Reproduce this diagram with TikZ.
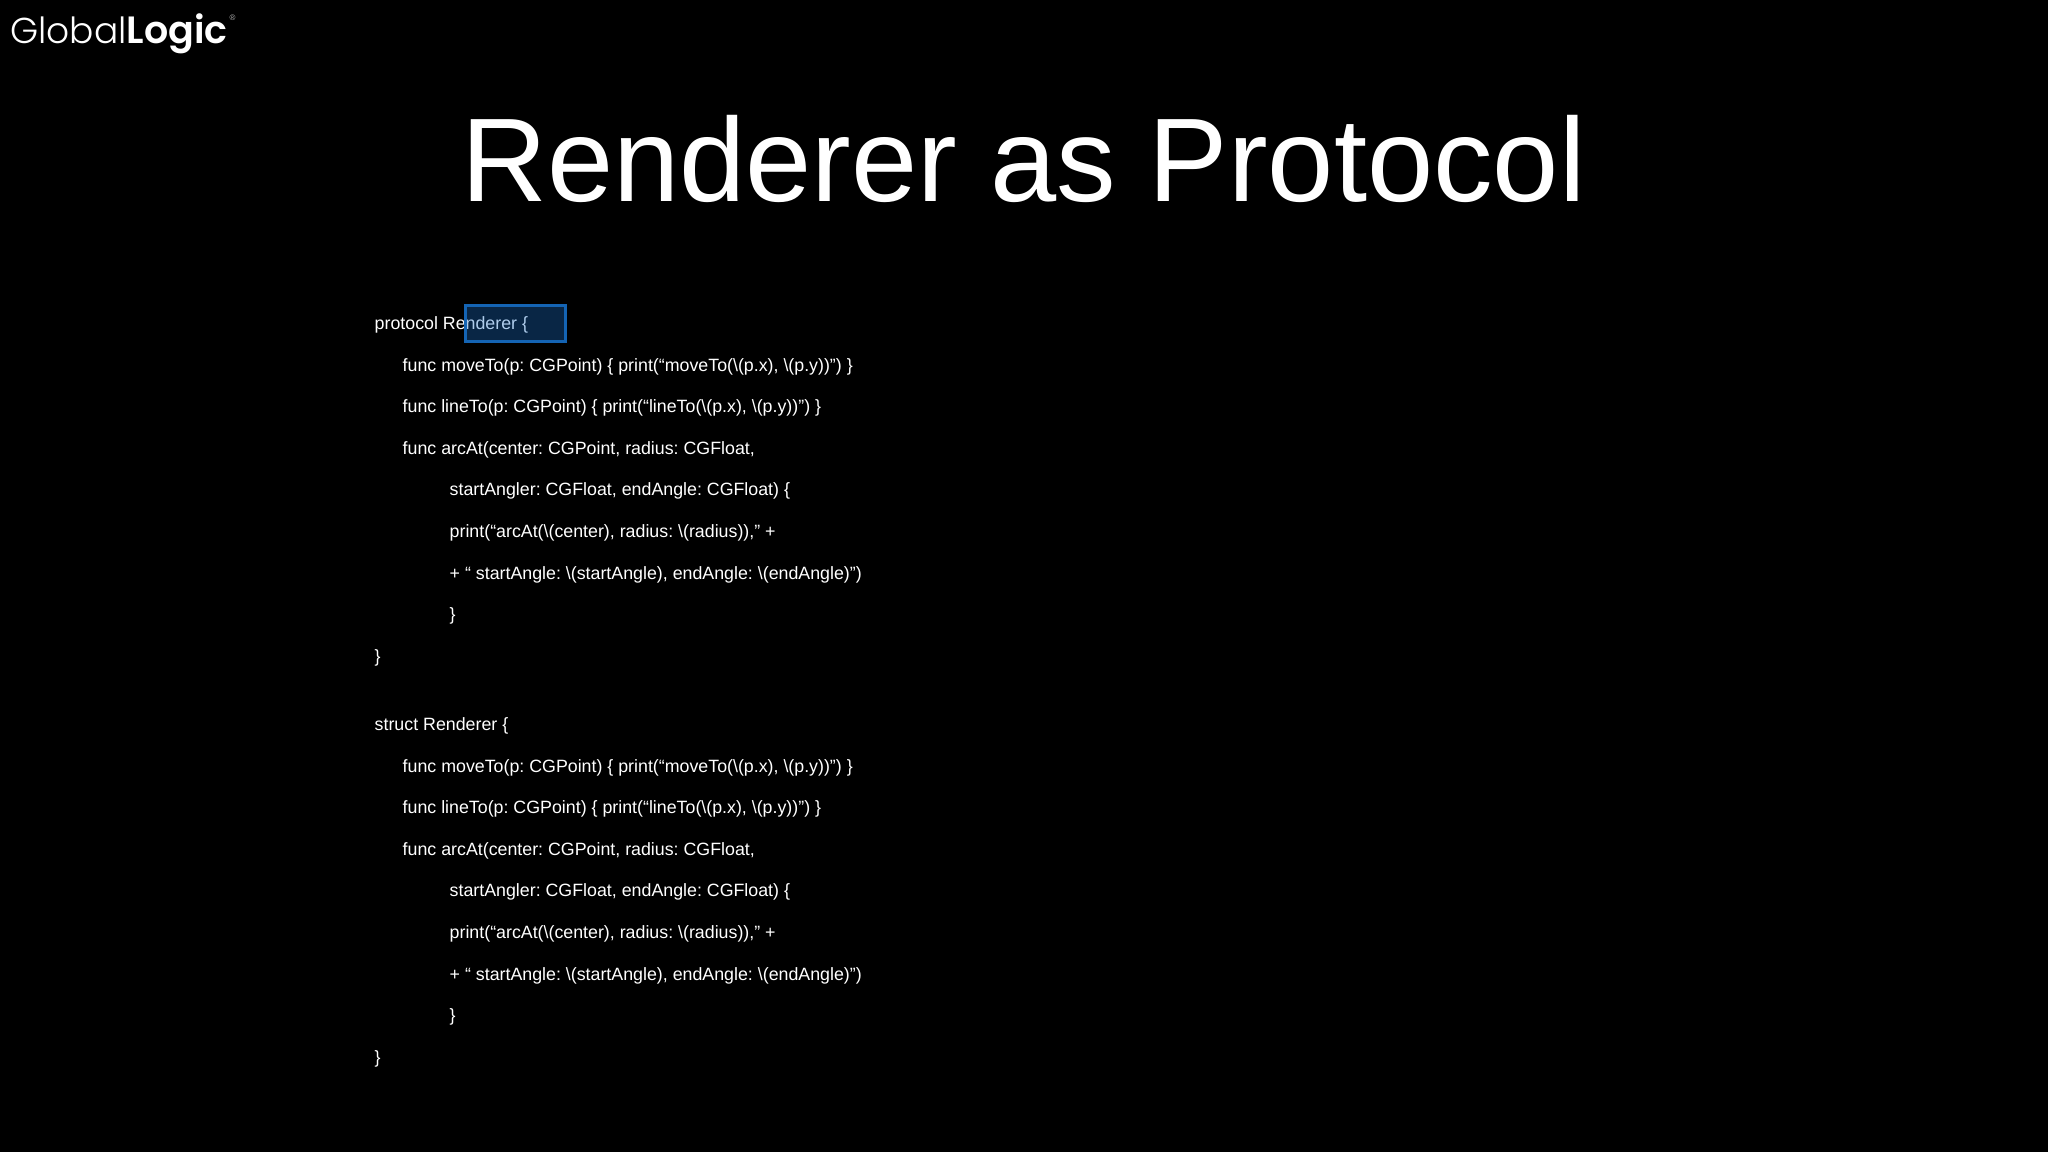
\documentclass[tikz,border=0pt]{standalone}
\usepackage{fontspec}
\setmainfont{Liberation Sans}
\newfontfamily\logolight{Poppins Light}
\newfontfamily\logobold{Poppins SemiBold}
\newcommand{\bsl}{\textbackslash}
\definecolor{selblue}{HTML}{1A6EC8}
\definecolor{selborder}{HTML}{1464B4}
\tikzset{
  codeline/.style={anchor=base west,inner sep=0pt,text=white,font=\fontsize{17.8}{22}\selectfont\frenchspacing},
  titletext/.style={anchor=base,inner sep=0pt,text=white,font=\fontsize{119}{130}\selectfont},
}
\begin{document}
\begin{tikzpicture}[x=1pt,y=-1pt]
\path[fill=black,use as bounding box] (0,0) rectangle (2048,1152);
\node[anchor=base west,inner sep=0pt,text=white,font=\fontsize{36}{40}\selectfont\logolight] (logoa) at (10,43) {Global};
\node[anchor=base west,inner sep=0pt,text=white,font=\fontsize{38}{40}\selectfont\logobold] (logob) at (126.5,43) {Logic};
\node[anchor=center,inner sep=0pt,text=white!70!black,font=\fontsize{8}{9}\selectfont] (reg) at (232.5,18) {®};
\node[titletext] (title) at (1023.5,201.5) {Renderer as Protocol};
% first block
\node[codeline] (a1) at (374.5,329) {protocol Renderer \{};
\node[codeline] (a2) at (402.5,371) {func moveTo(p: CGPoint) \{ print(“moveTo(\bsl(p.x), \bsl(p.y))”) \}};
\node[codeline] (a3) at (402.5,412.5) {func lineTo(p: CGPoint) \{ print(“lineTo(\bsl(p.x), \bsl(p.y))”) \}};
\node[codeline] (a4) at (402.5,454) {func arcAt(center: CGPoint, radius: CGFloat,};
\node[codeline] (a5) at (449.5,495.6) {startAngler: CGFloat, endAngle: CGFloat) \{};
\node[codeline] (a6) at (449.5,537) {print(“arcAt(\bsl(center), radius: \bsl(radius)),” +};
\node[codeline] (a7) at (449.5,579) {+ “ startAngle: \bsl(startAngle), endAngle: \bsl(endAngle)”)};
\node[codeline] (a8) at (449.5,620.5) {\}};
\node[codeline] (a9) at (374.5,662.3) {\}};
% second block
\node[codeline] (b1) at (374.5,730.5) {struct Renderer \{};
\node[codeline] (b2) at (402.5,772.1) {func moveTo(p: CGPoint) \{ print(“moveTo(\bsl(p.x), \bsl(p.y))”) \}};
\node[codeline] (b3) at (402.5,813.7) {func lineTo(p: CGPoint) \{ print(“lineTo(\bsl(p.x), \bsl(p.y))”) \}};
\node[codeline] (b4) at (402.5,855.3) {func arcAt(center: CGPoint, radius: CGFloat,};
\node[codeline] (b5) at (449.5,896.9) {startAngler: CGFloat, endAngle: CGFloat) \{};
\node[codeline] (b6) at (449.5,938.5) {print(“arcAt(\bsl(center), radius: \bsl(radius)),” +};
\node[codeline] (b7) at (449.5,980.1) {+ “ startAngle: \bsl(startAngle), endAngle: \bsl(endAngle)”)};
\node[codeline] (b8) at (449.5,1021.7) {\}};
\node[codeline] (b9) at (374.5,1063.3) {\}};
% selection box
\fill[selblue,fill opacity=0.35] (465.4,305.2) rectangle (565,341.8);
\draw[selborder,line width=3pt] (465.4,305.2) rectangle (565,341.8);
\end{tikzpicture}
\end{document}
